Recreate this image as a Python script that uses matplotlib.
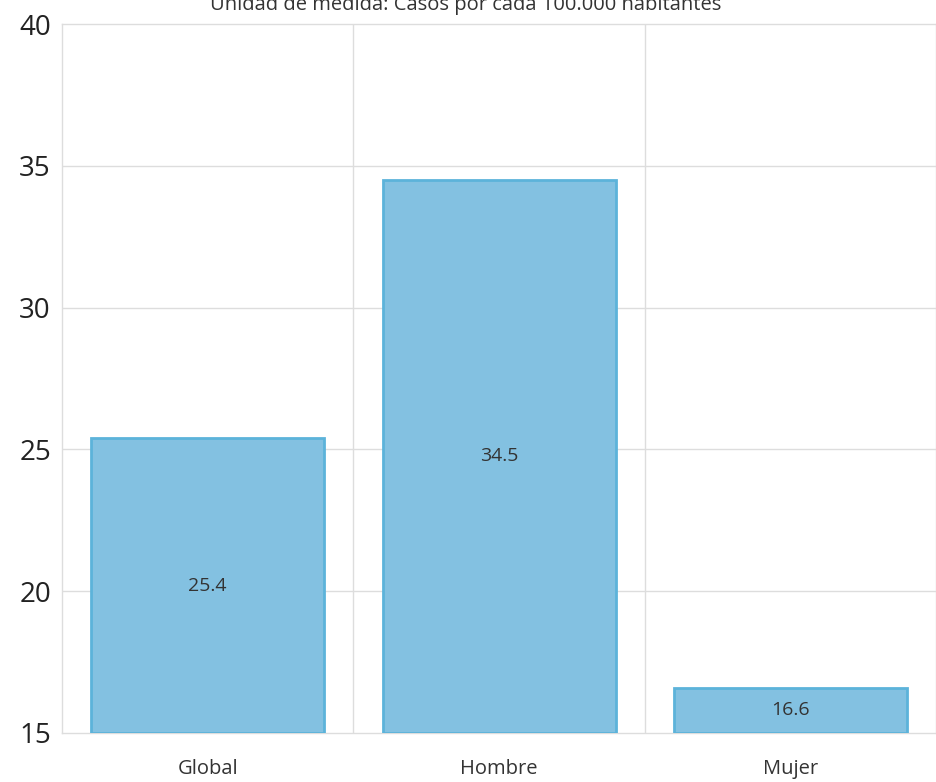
import matplotlib
matplotlib.use("Agg")
import matplotlib.pyplot as plt

# Datos
categorias = ["Global", "Hombre", "Mujer"]
valores = [25.4, 34.5, 16.6]
y_ticks = [15, 20, 25, 30, 35, 40]
titulo = "Unidad de medida: Casos por cada 100.000 habitantes"

plt.rcParams['font.family'] = ['Open Sans', 'DejaVu Sans']

fig = plt.figure(figsize=(9.37, 7.82), dpi=100)
ax = fig.add_axes([0.0662, 0.0627, 0.9328, 0.9066])

base = y_ticks[0]
x = list(range(len(categorias)))
alturas = [v - base for v in valores]
ax.bar(x, alturas, bottom=base, width=0.8, color='#83c1e1',
       edgecolor='#5cb3da', linewidth=2, zorder=3)

# Etiquetas en el centro de cada barra
for xi, v in zip(x, valores):
    ax.text(xi, (base + v) / 2, f"{v:.1f}", ha='center', va='center',
            fontsize=14, color='#333333', zorder=4)

ax.set_xlim(-0.5, len(categorias) - 0.5)
ax.set_ylim(y_ticks[0], y_ticks[-1])
ax.set_yticks(y_ticks)
ax.set_yticklabels([str(t) for t in y_ticks], fontsize=20, color='#222222')
ax.set_xticks(x)
ax.set_xticklabels(categorias, fontsize=14.5, color='#333333')
ax.tick_params(axis='x', length=0, pad=19)
ax.tick_params(axis='y', length=0, pad=8)

# Rejilla
for t in y_ticks[1:-1]:
    ax.axhline(t, color='#dddddd', linewidth=1, zorder=1)
for b in [i + 0.5 for i in x[:-1]]:
    ax.axvline(b, color='#dddddd', linewidth=1, zorder=1)
for s in ax.spines.values():
    s.set_color('#dddddd')
    s.set_linewidth(1)

fig.text(0.497, 1 - 10 / 782, titulo, ha='center', va='baseline',
         fontsize=14.5, color='#333333')

fig.savefig("out.png", dpi=100)
